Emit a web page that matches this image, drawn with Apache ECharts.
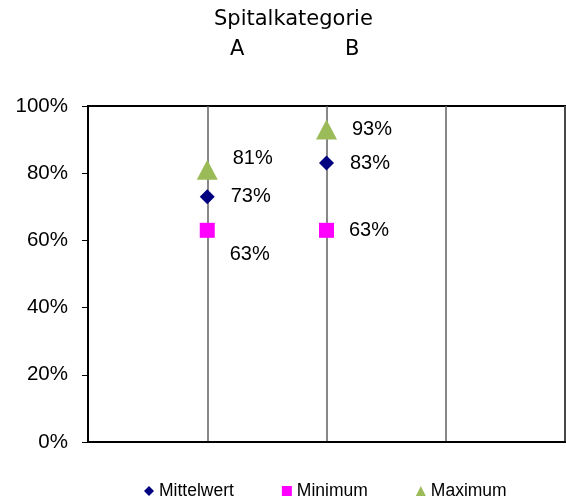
<!DOCTYPE html>
<html>
<head>
<meta charset="utf-8">
<script src="https://cdn.jsdelivr.net/npm/echarts@6/dist/echarts.min.js"></script>
<style>
	html, body { margin: 0; padding: 0; background: #fff; }
	#chart { width: 566px; height: 499px; }
</style>
</head>
<body>
<div id="chart"></div>
<script>
// Spitalkategorie A und B, Werte in Prozent
const categories = ["A", "B"];
const xPositions = [1, 2];
const mittelwert = [73, 83];
const minimum = [63, 63];
const maximum = [81, 93];
const yTicks = [0, 20, 40, 60, 80, 100];

let chart = echarts.init(document.getElementById("chart"));

function points(values) {
	return values.map(function(v, i) {
		return [xPositions[i], v];
	});
}

let labelFont = {
	fontFamily: "Liberation Sans",
	fontSize: 20,
	color: "#000"
};
let titleFont = { fontFamily: "DejaVu Sans", fontSize: 21, fontWeight: "normal", color: "#000" };

let option = {
	animation: false,
	title: [
		{ text: "Spitalkategorie", left: 214, top: 9, padding: 0, textStyle: titleFont },
		{ text: categories[0], left: 230, top: 39, padding: 0, textStyle: titleFont },
		{ text: categories[1], left: 345, top: 39, padding: 0, textStyle: titleFont }
	],
	legend: {
		top: 477,
		left: 139,
		itemWidth: 10,
		itemHeight: 10,
		itemGap: 48,
		textStyle: { fontFamily: "Liberation Sans", fontSize: 17.5, color: "#000" },
		data: ["Mittelwert", "Minimum", "Maximum"]
	},
	grid: {
		left: 88,
		right: 1,
		top: 106,
		bottom: 57,
		show: true,
		borderColor: "#000",
		borderWidth: 2
	},
	xAxis: {
		type: "value",
		min: 0,
		max: 4,
		interval: 1,
		axisLine: { show: true, lineStyle: { color: "#000", width: 2 } },
		axisTick: { show: false },
		axisLabel: { show: false },
		splitLine: { show: true, lineStyle: { color: "#606060", width: 1.5 } }
	},
	yAxis: {
		type: "value",
		min: 0,
		max: 100,
		interval: 20,
		axisLine: { show: true, lineStyle: { color: "#000", width: 2 } },
		axisTick: { show: true, inside: false, length: 6, lineStyle: { color: "#000" } },
		axisLabel: {
			margin: 20,
			fontFamily: "Liberation Sans",
			fontSize: 20.5,
			color: "#000",
			formatter: function(v) {
				return yTicks.indexOf(v) >= 0 ? v + "%" : "";
			}
		},
		splitLine: { show: false }
	},
	series: [
		{
			name: "Mittelwert",
			type: "scatter",
			symbol: "diamond",
			symbolSize: 15,
			itemStyle: { color: "#000080", opacity: 1 },
			label: Object.assign({
				show: true,
				position: "right",
				distance: 16,
				formatter: function(p) { return p.value[1] + "%"; }
			}, labelFont),
			data: points(mittelwert)
		},
		{
			name: "Minimum",
			type: "scatter",
			symbol: "rect",
			symbolSize: 15,
			itemStyle: { color: "#FF00FF", opacity: 1 },
			label: Object.assign({
				show: true,
				position: "right",
				distance: 15,
				formatter: function(p) { return p.value[1] + "%"; }
			}, labelFont),
			data: points(minimum).map(function(d, i) {
				// Label von A liegt unterhalb des Punktes
				if (i == 0) {
					return { value: d, label: { offset: [0, 24] } };
				}
				return d;
			})
		},
		{
			name: "Maximum",
			type: "scatter",
			symbol: "triangle",
			symbolSize: [21, 20],
			itemStyle: { color: "#9BBB59", opacity: 1 },
			label: Object.assign({
				show: true,
				position: "right",
				distance: 15,
				formatter: function(p) { return p.value[1] + "%"; }
			}, labelFont),
			data: points(maximum).map(function(d, i) {
				if (i == 0) {
					return { value: d, label: { offset: [0, -11] } };
				}
				return d;
			})
		}
	]
};

chart.setOption(option);
</script>
</body>
</html>
